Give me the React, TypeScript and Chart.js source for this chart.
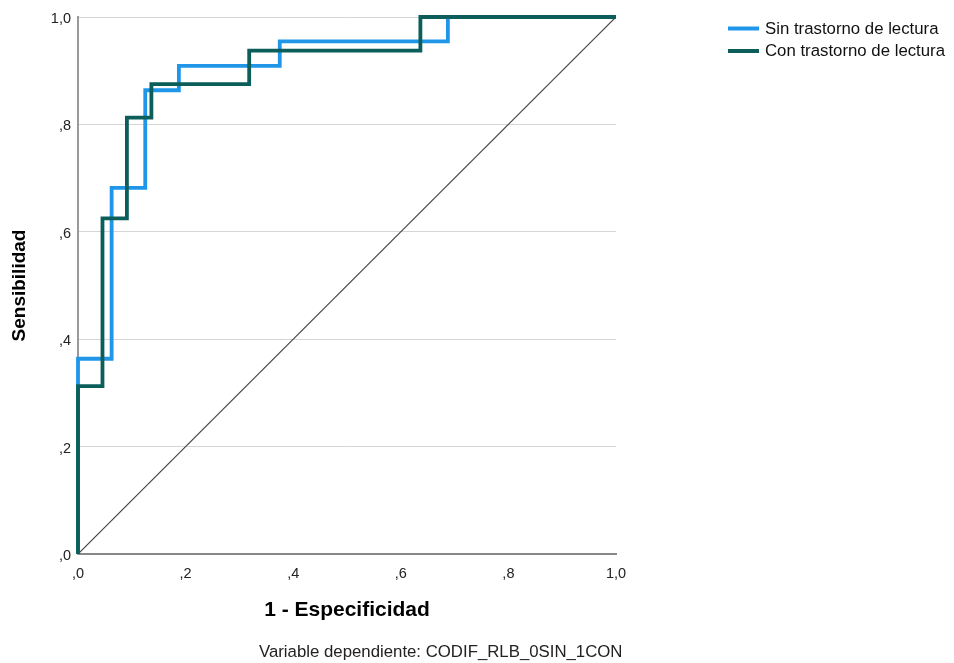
import React, { useEffect, useRef } from "react";
import { Chart, registerables } from "chart.js";

Chart.register(...registerables);

// ROC curve corner points (1 - specificity, sensitivity)
const sinFPR = [0, 0.0625, 0.125, 0.1875, 0.375, 0.6875, 1];
const sinTPR = [0, 0.3636, 0.6818, 0.8636, 0.9091, 0.9545, 1];
const conFPR = [0, 0.0455, 0.0909, 0.1364, 0.3182, 0.6364, 1];
const conTPR = [0, 0.3125, 0.625, 0.8125, 0.875, 0.9375, 1];
const refFPR = [0, 1];
const refTPR = [0, 1];

const seriesLabels = ["Sin trastorno de lectura", "Con trastorno de lectura"];
const xTitle = "1 - Especificidad";
const yTitle = "Sensibilidad";
const footnote = "Variable dependiente: CODIF_RLB_0SIN_1CON";

const BLUE = "#1f96e8";
const TEAL = "#0c5e5a";

const toPts = (xs: number[], ys: number[]) => xs.map((x, i) => ({ x, y: ys[i] }));
const fmt = (v: number) => {
  const s = Number(v).toFixed(1).replace(".", ",");
  return s.startsWith("0") ? s.slice(1) : s;
};

const FONT = "'Liberation Sans', Arial, sans-serif";

const extrasPlugin = {
  id: "extras",
  afterDraw(chart: any) {
    const ctx = chart.ctx;
    ctx.save();
    // legend
    const colors = [BLUE, TEAL];
    const rows = [28.5, 51];
    seriesLabels.forEach((lab, i) => {
      ctx.strokeStyle = colors[i];
      ctx.lineWidth = 4;
      ctx.lineCap = "butt";
      ctx.beginPath();
      ctx.moveTo(728, rows[i]);
      ctx.lineTo(759, rows[i]);
      ctx.stroke();
      ctx.fillStyle = "#111";
      ctx.font = `16.8px ${FONT}`;
      ctx.textAlign = "left";
      ctx.textBaseline = "middle";
      ctx.fillText(lab, 765, rows[i] + 0.5);
    });
    // footnote
    ctx.fillStyle = "#222";
    ctx.font = `16.8px ${FONT}`;
    ctx.textAlign = "left";
    ctx.textBaseline = "alphabetic";
    ctx.fillText(footnote, 259, 657);
    ctx.restore();
  },
};

export default function App() {
  const ref = useRef<HTMLCanvasElement | null>(null);
  useEffect(() => {
    document.body.style.margin = "0";
    const chart = new Chart(ref.current as HTMLCanvasElement, {
      type: "scatter",
      data: {
        datasets: [
          {
            label: "ref",
            data: toPts(refFPR, refTPR),
            showLine: true,
            borderColor: "#444444",
            borderWidth: 1.2,
            pointRadius: 0,
            order: 3,
          },
          {
            label: seriesLabels[0],
            data: toPts(sinFPR, sinTPR),
            showLine: true,
            stepped: "after",
            borderColor: BLUE,
            borderWidth: 3.8,
            borderJoinStyle: "miter",
            borderCapStyle: "butt",
            pointRadius: 0,
            clip: false,
            order: 2,
          },
          {
            label: seriesLabels[1],
            data: toPts(conFPR, conTPR),
            showLine: true,
            stepped: "after",
            borderColor: TEAL,
            borderWidth: 3.8,
            borderJoinStyle: "miter",
            borderCapStyle: "butt",
            pointRadius: 0,
            clip: false,
            order: 1,
          },
        ] as any,
      },
      options: {
        animation: false,
        responsive: false,
        devicePixelRatio: 1,
        layout: { padding: { top: 17, right: 338, left: 0, bottom: 0 } },
        plugins: { legend: { display: false }, tooltip: { enabled: false } },
        scales: {
          x: {
            type: "linear",
            min: 0,
            max: 1,
            afterFit: (s: any) => {
              s.height = 109;
            },
            ticks: {
              stepSize: 0.2,
              callback: (v: any) => fmt(v),
              color: "#222",
              font: { family: FONT, size: 14.5 },
              padding: 11,
              maxRotation: 0,
            },
            grid: { display: false, drawTicks: false },
            border: { display: true, color: "#888888", width: 2 },
            title: {
              display: true,
              text: xTitle,
              color: "#000",
              font: { family: FONT, size: 21, weight: "bold" },
              padding: { top: 0, bottom: 40 },
            },
          },
          y: {
            type: "linear",
            min: 0,
            max: 1,
            afterFit: (s: any) => {
              s.width = 78;
            },
            ticks: {
              stepSize: 0.2,
              callback: (v: any) => fmt(v),
              color: "#222",
              font: { family: FONT, size: 14.5 },
              padding: 7,
              labelOffset: 2,
            },
            grid: { display: true, drawTicks: false, color: "#d6d6d6", lineWidth: 1 },
            border: { display: true, color: "#999999", width: 2 },
            title: {
              display: true,
              text: yTitle,
              color: "#000",
              font: { family: FONT, size: 19, weight: "bold" },
              padding: { top: 8, bottom: 0 },
            },
          },
        },
      } as any,
      plugins: [extrasPlugin],
    });
    return () => chart.destroy();
  }, []);
  return (
    <div style={{ position: "absolute", left: 0, top: 0, width: 954, height: 663, background: "#fff" }}>
      <canvas ref={ref} width={954} height={663} />
    </div>
  );
}
